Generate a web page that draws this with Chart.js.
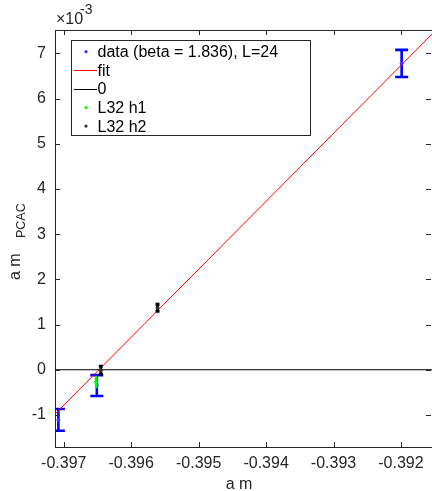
<!DOCTYPE html>
<html>
<head>
<meta charset="utf-8">
<script src="https://cdn.jsdelivr.net/npm/chart.js"></script>
<style>
html, body { margin: 0; padding: 0; background: #fff; overflow: hidden; }
</style>
</head>
<body>
<canvas id="mychart" width="432" height="491"></canvas>
<script>
'use strict';

// tick labels
var xTicks = [-0.397, -0.396, -0.395, -0.394, -0.393, -0.392];
var yTicks = [-1, 0, 1, 2, 3, 4, 5, 6, 7];   // in units of 1e-3

// data (beta = 1.836), L=24
var dataX = [-0.39708, -0.39651, -0.39199];
var dataY = [-1.11, -0.35, 6.78];
var dataErr = [0.24, 0.23, 0.30];

// L32 h1
var h1X = [-0.39652];
var h1Y = [-0.27];
var h1Err = [0.11];

// L32 h2
var h2X = [-0.39645, -0.39561];
var h2Y = [-0.01, 1.37];
var h2Err = [0.09, 0.08];

// fit line, ends at the axis limits
var fitX = [-0.39713, -0.39154];
var fitY = [-0.98, 7.43];

var xMin = -0.39713, xMax = -0.39154;
var yMin = -1.71, yMax = 7.52;

var FONT = '"Liberation Sans", Arial, Helvetica, sans-serif';
var AXC = '#262626';

function pts(xs, ys) {
    return xs.map(function (x, i) { return { x: x, y: ys[i] }; });
}

// error bars, drawn under each dataset's points
var errorBarPlugin = {
    id: 'errorBars',
    beforeDatasetDraw: function (chart, args) {
        var ds = chart.data.datasets[args.index];
        if (!ds.errors) return;
        var ctx = chart.ctx, a = chart.chartArea;
        var xs = chart.scales.x, ys = chart.scales.y;
        ctx.save();
        ctx.beginPath();
        ctx.rect(a.left, a.top, a.right - a.left, a.bottom - a.top);
        ctx.clip();
        ctx.strokeStyle = ds.barColor;
        ctx.lineWidth = ds.barWidth;
        ds.data.forEach(function (p, i) {
            var px = xs.getPixelForValue(p.x);
            var top = ys.getPixelForValue(p.y + ds.errors[i]);
            var bot = ys.getPixelForValue(p.y - ds.errors[i]);
            var c = ds.capWidth / 2;
            ctx.beginPath();
            ctx.moveTo(px, top); ctx.lineTo(px, bot);
            if (c > 0) {
                ctx.moveTo(px - c, top); ctx.lineTo(px + c, top);
                ctx.moveTo(px - c, bot); ctx.lineTo(px + c, bot);
            }
            ctx.stroke();
        });
        ctx.restore();
    }
};

// matlab style frame: inward ticks, top line, labels, legend
var framePlugin = {
    id: 'frame',
    afterDraw: function (chart) {
        var ctx = chart.ctx, a = chart.chartArea;
        var xs = chart.scales.x, ys = chart.scales.y;
        var tl = 5;
        ctx.save();
        ctx.strokeStyle = AXC;
        ctx.lineWidth = 1;
        ctx.beginPath();
        ctx.moveTo(a.left, a.top + 0.5); ctx.lineTo(a.right, a.top + 0.5);
        xTicks.forEach(function (v) {
            var px = Math.round(xs.getPixelForValue(v)) + 0.5;
            ctx.moveTo(px, a.bottom); ctx.lineTo(px, a.bottom - tl);
            ctx.moveTo(px, a.top); ctx.lineTo(px, a.top + tl);
        });
        yTicks.forEach(function (v) {
            var py = Math.round(ys.getPixelForValue(v)) + 0.5;
            ctx.moveTo(a.left, py); ctx.lineTo(a.left + tl, py);
            ctx.moveTo(a.right - 1, py); ctx.lineTo(a.right - 1 - tl, py);
        });
        ctx.stroke();

        ctx.fillStyle = AXC;
        ctx.textBaseline = 'alphabetic';
        ctx.textAlign = 'left';

        // exponent label
        ctx.font = '16px ' + FONT;
        ctx.fillText('\u00d710', 56, 24);
        ctx.font = '14px ' + FONT;
        ctx.fillText('-3', 80, 14);

        // x title
        ctx.font = '16px ' + FONT;
        ctx.textAlign = 'center';
        ctx.fillText('a m', 239, 489);

        // y title with subscript
        ctx.save();
        ctx.translate(19.5, 280);
        ctx.rotate(-Math.PI / 2);
        ctx.textAlign = 'left';
        ctx.font = '16px ' + FONT;
        ctx.fillText('a m', 0, 0);
        ctx.font = '12.5px ' + FONT;
        ctx.fillText('PCAC', 42, 5.5);
        ctx.restore();

        // legend
        var lx = 71, ly = 40, lw = 240, lh = 96;
        ctx.fillStyle = '#fff';
        ctx.fillRect(lx, ly, lw, lh);
        ctx.strokeStyle = AXC;
        ctx.strokeRect(lx + 0.5, ly + 0.5, lw - 1, lh - 1);
        ctx.font = '16px ' + FONT;
        ctx.textAlign = 'left';
        ctx.textBaseline = 'middle';
        var rowY = 51.7, rowH = 18.6;
        chart.data.datasets.forEach(function (ds, i) {
            var y = rowY + i * rowH;
            if (ds.showLine) {
                ctx.strokeStyle = ds.borderColor;
                ctx.lineWidth = 1;
                ctx.beginPath();
                ctx.moveTo(74, Math.round(y) + 0.5); ctx.lineTo(97, Math.round(y) + 0.5);
                ctx.stroke();
            } else {
                ctx.fillStyle = ds.backgroundColor;
                ctx.beginPath();
                ctx.arc(86, y, 1.6, 0, Math.PI * 2);
                ctx.fill();
            }
            ctx.fillStyle = '#000';
            ctx.fillText(ds.label, 97.5, y + 1);
        });
        ctx.restore();
    }
};

var ctx = document.getElementById('mychart').getContext('2d');
var chart = new Chart(ctx, {
    type: 'scatter',
    data: {
        datasets: [{
            label: 'data (beta = 1.836), L=24',
            data: pts(dataX, dataY),
            errors: dataErr, barColor: '#0000ff', barWidth: 2.6, capWidth: 13,
            backgroundColor: '#3a3aff', borderColor: '#3a3aff',
            pointRadius: 1.5, showLine: false, order: 5
        }, {
            label: 'fit',
            data: pts(fitX, fitY),
            borderColor: '#ff0000', borderWidth: 1,
            pointRadius: 0, showLine: true, order: 4
        }, {
            label: '0',
            data: pts([xMin, xMax], [0, 0]),
            borderColor: '#000000', borderWidth: 1,
            pointRadius: 0, showLine: true, order: 3
        }, {
            label: 'L32 h1',
            data: pts(h1X, h1Y),
            errors: h1Err, barColor: '#00ff00', barWidth: 2.6, capWidth: 2,
            backgroundColor: '#00ff00', borderColor: '#00ff00',
            pointRadius: 1.5, showLine: false, order: 2
        }, {
            label: 'L32 h2',
            data: pts(h2X, h2Y),
            errors: h2Err, barColor: '#000000', barWidth: 2.8, capWidth: 4,
            backgroundColor: '#333333', borderColor: '#333333',
            pointRadius: 1.5, showLine: false, order: 1
        }]
    },
    options: {
        responsive: false,
        animation: false,
        events: [],
        layout: { autoPadding: false, padding: { top: 30, right: 0, left: 0, bottom: 0 } },
        plugins: {
            legend: { display: false },
            tooltip: { enabled: false }
        },
        scales: {
            x: {
                type: 'linear',
                min: xMin, max: xMax,
                afterBuildTicks: function (scale) {
                    scale.ticks = xTicks.map(function (v) { return { value: v }; });
                },
                afterFit: function (scale) {
                    scale.height = 44;
                    scale.paddingLeft = 0;
                    scale.paddingRight = 0;
                },
                grid: { display: false, drawTicks: false },
                border: { display: true, color: AXC, width: 1 },
                ticks: {
                    padding: 7,
                    color: AXC,
                    font: { family: FONT, size: 16 },
                    maxRotation: 0,
                    callback: function (v) { return v.toFixed(3); }
                }
            },
            y: {
                type: 'linear',
                min: yMin, max: yMax,
                afterBuildTicks: function (scale) {
                    scale.ticks = yTicks.map(function (v) { return { value: v }; });
                },
                afterFit: function (scale) {
                    scale.width = 55;
                    scale.paddingTop = 0;
                    scale.paddingBottom = 0;
                },
                grid: { display: false, drawTicks: false },
                border: { display: true, color: AXC, width: 1 },
                ticks: {
                    padding: 9,
                    color: AXC,
                    font: { family: FONT, size: 16 },
                    callback: function (v) { return String(v); }
                }
            }
        }
    },
    plugins: [errorBarPlugin, framePlugin]
});
</script>
</body>
</html>
